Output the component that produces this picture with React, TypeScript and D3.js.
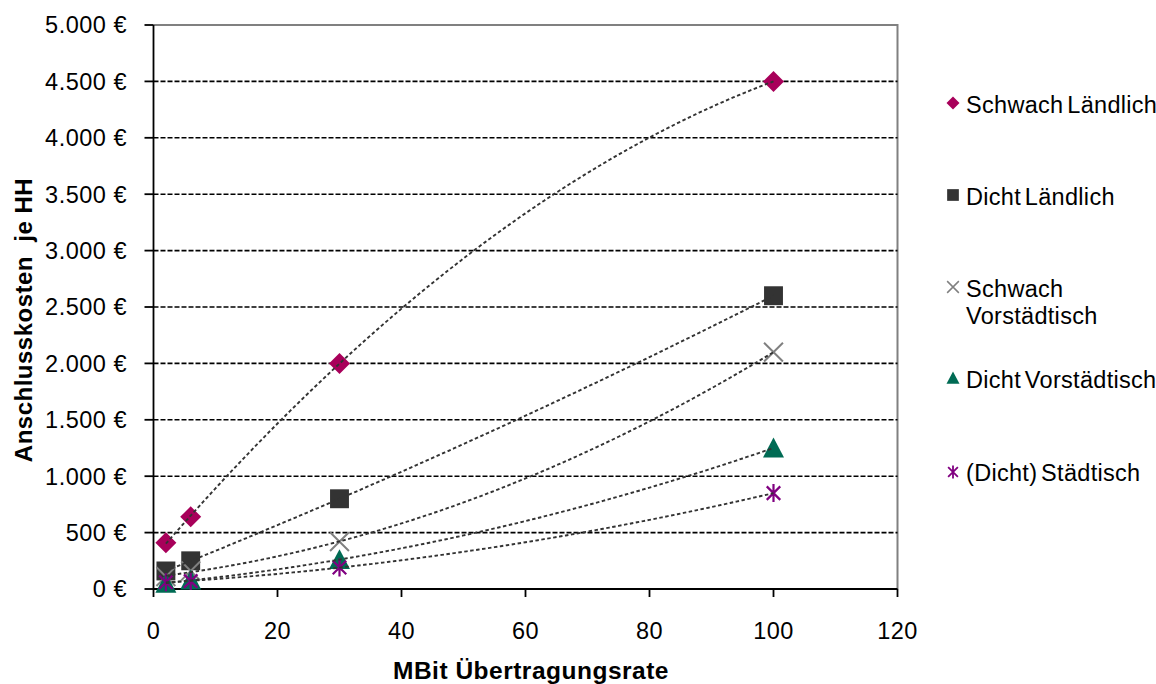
import React from "react";
import * as d3 from "d3";

const xValues = [2, 6, 30, 100];
const schwachLaendlich = [410, 640, 2000, 4500];
const dichtLaendlich = [160, 250, 800, 2600];
const schwachVorstaedtisch = [110, 160, 420, 2100];
const dichtVorstaedtisch = [50, 80, 260, 1250];
const staedtisch = [60, 70, 190, 850];

const seriesNames = [
  "Schwach Ländlich",
  "Dicht Ländlich",
  "Schwach Vorstädtisch",
  "Dicht Vorstädtisch",
  "(Dicht) Städtisch",
];
const seriesValues = [schwachLaendlich, dichtLaendlich, schwachVorstaedtisch, dichtVorstaedtisch, staedtisch];
const seriesMarkers = ["diamond", "square", "x", "triangle", "star"];
const seriesColors = ["#A8005A", "#333333", "#808080", "#006B54", "#800080"];

const xTicks = [0, 20, 40, 60, 80, 100, 120];
const yTicks = [0, 500, 1000, 1500, 2000, 2500, 3000, 3500, 4000, 4500, 5000];

const W = 1156, H = 684;
const FONT = "'Liberation Sans', Arial, sans-serif";

// quadratic least squares fit
function quadFit(xs: number[], ys: number[]) {
  let s0 = 0, s1 = 0, s2 = 0, s3 = 0, s4 = 0, t0 = 0, t1 = 0, t2 = 0;
  xs.forEach((x, i) => {
    const y = ys[i];
    s0 += 1; s1 += x; s2 += x * x; s3 += x * x * x; s4 += x * x * x * x;
    t0 += y; t1 += x * y; t2 += x * x * y;
  });
  const A = [
    [s0, s1, s2, t0],
    [s1, s2, s3, t1],
    [s2, s3, s4, t2],
  ];
  for (let i = 0; i < 3; i++) {
    let p = i;
    for (let r = i + 1; r < 3; r++) if (Math.abs(A[r][i]) > Math.abs(A[p][i])) p = r;
    [A[i], A[p]] = [A[p], A[i]];
    for (let r = 0; r < 3; r++) {
      if (r === i) continue;
      const f = A[r][i] / A[i][i];
      for (let c = i; c < 4; c++) A[r][c] -= f * A[i][c];
    }
  }
  const c0 = A[0][3] / A[0][0], c1 = A[1][3] / A[1][1], c2 = A[2][3] / A[2][2];
  return (x: number) => c0 + c1 * x + c2 * x * x;
}

function Marker({ type, cx, cy, color, s }: { type: string; cx: number; cy: number; color: string; s: number }) {
  const h = s / 2;
  if (type === "diamond") {
    return <path d={`M${cx},${cy - h} L${cx + h},${cy} L${cx},${cy + h} L${cx - h},${cy} Z`} fill={color} />;
  }
  if (type === "square") {
    const q = h * 0.9;
    return <rect x={cx - q} y={cy - q} width={2 * q} height={2 * q} fill={color} />;
  }
  if (type === "x") {
    const q = h * 0.9;
    return (
      <path d={`M${cx - q},${cy - q} L${cx + q},${cy + q} M${cx - q},${cy + q} L${cx + q},${cy - q}`} stroke={color} strokeWidth={s > 14 ? 2 : 1.5} fill="none" />
    );
  }
  if (type === "triangle") {
    return <path d={`M${cx},${cy - h} L${cx + h},${cy + h * 0.9} L${cx - h},${cy + h * 0.9} Z`} fill={color} />;
  }
  const q = h * 0.75;
  return (
    <path
      d={`M${cx - q},${cy - q} L${cx + q},${cy + q} M${cx - q},${cy + q} L${cx + q},${cy - q} M${cx},${cy - h} L${cx},${cy + h}`}
      stroke={color}
      strokeWidth={s > 14 ? 2.2 : 1.8}
      fill="none"
    />
  );
}

export default function App() {
  const x = d3.scaleLinear().domain([0, 120]).range([153.5, 897.5]);
  const y = d3.scaleLinear().domain([0, 5000]).range([589, 25]);
  const fmt = (v: number) => d3.format(",")(v).replace(/,/g, ".") + " €";

  const trendSamples = d3.range(2, 100.01, 0.5);
  const legendRows = [
    { lines: ["Schwach Ländlich"], baseline: 113, my: 103 },
    { lines: ["Dicht Ländlich"], baseline: 205, my: 195 },
    { lines: ["Schwach", "Vorstädtisch"], baseline: 297, my: 287 },
    { lines: ["Dicht Vorstädtisch"], baseline: 388, my: 378 },
    { lines: ["(Dicht) Städtisch"], baseline: 481, my: 472 },
  ];

  return (
    <svg width={W} height={H} style={{ position: "absolute", left: 0, top: 0, background: "#fff" }} fontFamily={FONT}>
      <rect x={0} y={0} width={W} height={H} fill="#fff" />
      <path d={`M${x(0)},${y(5000)} L${x(120)},${y(5000)} L${x(120)},${y(0)}`} stroke="#808080" strokeWidth={2} fill="none" />
      {yTicks.filter((t) => t > 0 && t < 5000).map((t) => (
        <line key={t} x1={x(0)} x2={x(120)} y1={y(t)} y2={y(t)} stroke="#000" strokeWidth={1.6} strokeDasharray="5,2" />
      ))}
      <line x1={x(0)} x2={x(0)} y1={y(5000)} y2={y(0)} stroke="#000" strokeWidth={1.8} />
      <line x1={x(0)} x2={x(120)} y1={y(0)} y2={y(0)} stroke="#000" strokeWidth={1.8} />
      {yTicks.map((t) => (
        <g key={t}>
          <line x1={x(0) - 9} x2={x(0)} y1={y(t)} y2={y(t)} stroke="#000" strokeWidth={1.8} />
          <text x={127} y={y(t)} dy="0.36em" textAnchor="end" fontSize={23.5} letterSpacing={0.5} fill="#000">
            {fmt(t)}
          </text>
        </g>
      ))}
      {xTicks.map((t) => (
        <g key={t}>
          <line x1={x(t)} x2={x(t)} y1={y(0)} y2={y(0) + 8} stroke="#000" strokeWidth={1.8} />
          <text x={x(t)} y={639} textAnchor="middle" fontSize={23.5} letterSpacing={0.5} fill="#000">
            {t}
          </text>
        </g>
      ))}
      <text x={531} y={679} textAnchor="middle" fontSize={24.5} fontWeight="bold" letterSpacing={0.5} fill="#000">
        MBit Übertragungsrate
      </text>
      <text
        transform={`translate(32,320) rotate(-90)`}
        textAnchor="middle"
        fontSize={24}
        fontWeight="bold"
        letterSpacing={0.5}
        fill="#000"
        style={{ whiteSpace: "pre" }}
      >
        {"Anschlusskosten  je HH"}
      </text>
      {seriesValues.map((vals, si) =>
        vals.map((v, i) => (
          <Marker key={`${si}-${i}`} type={seriesMarkers[si]} cx={x(xValues[i])} cy={y(v)} color={seriesColors[si]} s={si === 4 ? 18 : 21} />
        ))
      )}
      {seriesValues.map((vals, si) => {
        const f = quadFit(xValues, vals);
        const line = d3
          .line<number>()
          .x((d) => x(d))
          .y((d) => y(f(d)));
        return <path key={si} d={line(trendSamples) || ""} fill="none" stroke="#333" strokeWidth={1.9} strokeDasharray="3.5,2.5" />;
      })}
      {legendRows.map((r, i) => (
        <g key={i}>
          <Marker type={seriesMarkers[i]} cx={953} cy={r.my} color={seriesColors[i]} s={13} />
          <text fontSize={23.5} letterSpacing={0.3} wordSpacing={-3} fill="#000">
            {r.lines.map((l, j) => (
              <tspan key={j} x={966} y={r.baseline + j * 27}>
                {l}
              </tspan>
            ))}
          </text>
        </g>
      ))}
    </svg>
  );
}
